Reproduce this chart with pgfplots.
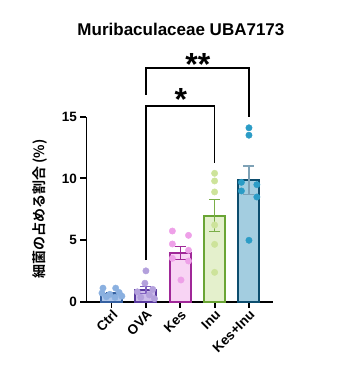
\documentclass[border=0pt]{standalone}
\usepackage{fontspec}
\setmainfont{Liberation Sans}
\newfontfamily\jp{Noto Sans CJK JP}[BoldFont={Noto Sans CJK JP Bold}]
\usepackage{pgfplots}
\pgfplotsset{compat=1.18}
\definecolor{ctrlP}{HTML}{8AB0E0}\definecolor{ctrlB}{HTML}{3560A0}\definecolor{ctrlF}{HTML}{B0C8EC}
\definecolor{ovaP}{HTML}{B3A0DC}\definecolor{ovaB}{HTML}{5B3BA0}\definecolor{ovaF}{HTML}{CCBCEA}\definecolor{ovaE}{HTML}{8060C0}
\definecolor{kesP}{HTML}{EEA0E8}\definecolor{kesB}{HTML}{A02898}\definecolor{kesF}{HTML}{F8D4F4}
\definecolor{inuP}{HTML}{CDE39A}\definecolor{inuB}{HTML}{6AA535}\definecolor{inuF}{HTML}{E4F0CC}\definecolor{inuE}{HTML}{7AAE48}
\definecolor{kiP}{HTML}{2B9CC6}\definecolor{kiB}{HTML}{0C4D6E}\definecolor{kiF}{HTML}{A3CDE0}\definecolor{kiE}{HTML}{7FA2B6}
\pgfplotsset{
  mybar/.style={ybar, mark=none, bar width=21pt, bar shift=0pt, line width=2pt, draw=#1B, fill=#1F},
  myerr/.style={draw=none, mark=none, forget plot, error bars/.cd, y dir=both, y explicit,
    error bar style={draw=#1, line width=1.2pt},
    error mark options={draw=#1, rotate=90, mark size=5.5pt, line width=1.2pt}},
  mypts/.style={only marks, mark=*, mark size=3.2pt, mark options={solid, draw=#1, fill=#1, line width=0.4pt}},
}
\begin{document}
\begin{tikzpicture}
\path[use as bounding box] (-86.5pt,-72.3pt) rectangle (251.5pt,301.7pt);
\begin{axis}[
  at={(0pt,0pt)}, anchor=south west,
  scale only axis, width=186.5pt, height=185pt,
  xmin=-0.73, xmax=4.70, ymin=0, ymax=15,
  axis lines=left,
  axis line style={line width=1.8pt, -},
  every tick/.style={black, line width=1.8pt},
  tick align=outside,
  major tick length=6pt,
  xtick={0,1,2,3,4},
  xticklabels={Ctrl,OVA,Kes,Inu,Kes+Inu},
  ytick={0,5,10,15},
  /pgf/number format/assume math mode=true,
  ticklabel style={font=\bfseries\fontsize{13.5}{14}\selectfont},
  xticklabel style={rotate=45, anchor=north east, inner sep=1pt},
  ylabel={\jp\bfseries 細菌の占める割合 (\%)},
  ylabel style={at={(axis description cs:-0.2493,0.5)}, anchor=center, font=\fontsize{14}{14}\selectfont},
  clip=false,
]
% bars
\addplot[mybar=ctrl] coordinates {(0,0.62)};
\addplot[mybar=ova] coordinates {(1,0.95)};
\addplot[mybar=kes] coordinates {(2,3.95)};
\addplot[mybar=inu] coordinates {(3,6.97)};
\addplot[mybar=ki] coordinates {(4,9.85)};
% error bars
\addplot[myerr=ctrlB] coordinates {(0,0.62) +- (0,0.12)};
\addplot[myerr=ovaE] coordinates {(1,0.95) +- (0,0.30)};
\addplot[myerr=kesB] coordinates {(2,3.95) +- (0,0.52)};
\addplot[myerr=inuE] coordinates {(3,6.97) +- (0,1.30)};
\addplot[myerr=kiE] coordinates {(4,9.85) +- (0,1.16)};
% points
\addplot[mypts=ctrlP] coordinates {
  (-0.25,1.1) (0.12,1.1) (-0.28,0.7) (0.22,0.75) (-0.05,0.6) (-0.15,0.4) (0.1,0.35) (0.3,0.45)};
\addplot[mypts=ovaP] coordinates {
  (1.0,2.5) (0.97,1.5) (1.2,1.0) (0.75,0.8) (1.1,0.55) (0.85,0.35) (1.25,0.25)};
\addplot[mypts=kesP] coordinates {
  (1.77,5.73) (2.24,5.38) (1.77,4.68) (2.24,4.17) (1.77,3.52) (2.24,3.3) (2.02,1.76)};
\addplot[mypts=inuP] coordinates {
  (3,10.41) (3,9.79) (3,8.9) (3,6.22) (3,4.65) (3,2.38)};
\addplot[mypts=kiP] coordinates {
  (4,14.1) (4,13.5) (3.78,9.68) (4.23,9.49) (3.78,8.98) (4.23,8.49) (4,4.98)};
% significance brackets
\addplot[black, line width=1.6pt, mark=none, line join=miter] coordinates {(1,3.38) (1,15.87) (3,15.87) (3,11.27)};
\addplot[black, line width=1.6pt, mark=none, line join=miter] coordinates {(1,16.76) (1,18.93) (4,18.93) (4,14.98)};
\node[anchor=base, inner sep=0pt, yshift=-18.5pt, font=\bfseries\fontsize{32}{32}\selectfont] at (axis cs:2.02,17.03) {*};
\node[anchor=base, inner sep=0pt, yshift=-18.5pt, font=\bfseries\fontsize{32}{32}\selectfont] at (axis cs:2.51,19.87) {**};
\node[font=\bfseries\fontsize{17}{17}\selectfont, xshift=1.2pt, yshift=87.7pt] at (rel axis cs:0.5,1) {Muribaculaceae UBA7173};
\end{axis}
\end{tikzpicture}
\end{document}
